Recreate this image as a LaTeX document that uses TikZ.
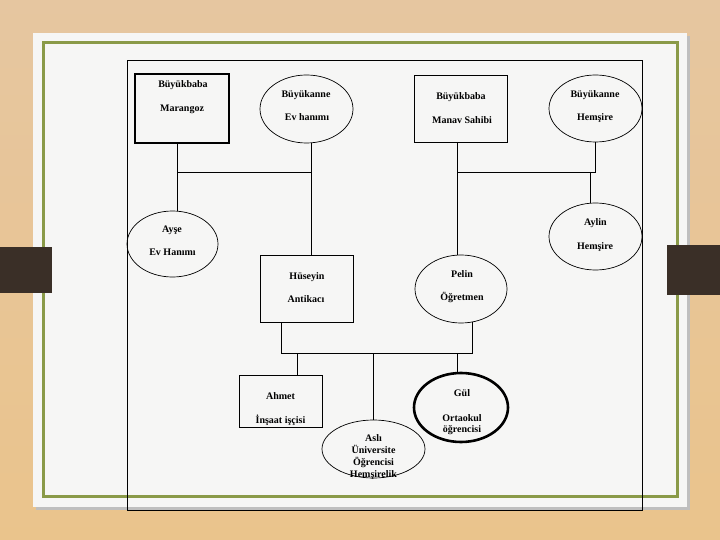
\documentclass[tikz,border=0pt]{standalone}
\usepackage{fontspec}
\setmainfont{Liberation Serif}
\usetikzlibrary{shapes.geometric}
\definecolor{wood}{HTML}{EAC48C}
\definecolor{woodtop}{HTML}{E6C6A0}
\definecolor{olive}{HTML}{8A9A48}
\definecolor{tab}{HTML}{3A2F27}
\definecolor{paper}{HTML}{F6F6F5}
\tikzset{
  rectbox/.style={draw, rectangle, inner sep=0pt, outer sep=0pt, line width=0.9pt},
  ovalbox/.style={draw, ellipse, inner sep=0pt, outer sep=0pt, line width=0.7pt},
  txt/.style={font=\bfseries\fontsize{10}{12}\selectfont, inner sep=0pt, align=center, text height=7pt, text depth=2pt},
  link/.style={line width=0.9pt}
}
\begin{document}
\begin{tikzpicture}[x=1pt,y=-1pt]
\useasboundingbox (0,0) rectangle (720,540);
% background
\shade[top color=woodtop, bottom color=wood] (0,0) rectangle (720,540);
% paper with shadow
\fill[black!25] (36,36) rectangle (690,510);
\fill[paper] (33,33) rectangle (687,507);
% green border
\draw[olive, line width=3pt] (43,43) rectangle (677,496);
% tabs
\fill[tab] (0,247) rectangle (52,293);
\fill[tab] (667,245) rectangle (720,295);
% inner frame
\draw[line width=0.9pt] (127,60) rectangle (642,510);

% generation 1
\node[rectbox, line width=1.9pt, minimum width=94pt, minimum height=69pt] (bb1) at (182,108.5) {};
\node[txt] (t1a) at (183,85) {Büyükbaba};
\node[txt] (t1b) at (182,109) {Marangoz};

\node[ovalbox, minimum width=93pt, minimum height=68pt] (ba1) at (306.5,109) {};
\node[txt] (t2a) at (306,95) {Büyükanne};
\node[txt] (t2b) at (307,118) {Ev hanımı};

\node[rectbox, minimum width=93pt, minimum height=67pt] (bb2) at (460.5,108.5) {};
\node[txt] (t3a) at (461,97) {Büyükbaba};
\node[txt] (t3b) at (462,121) {Manav Sahibi};

\node[ovalbox, minimum width=93pt, minimum height=67pt] (ba2) at (595.5,108.5) {};
\node[txt] (t4a) at (595,95) {Büyükanne};
\node[txt] (t4b) at (595,118) {Hemşire};

% generation 2
\node[ovalbox, minimum width=91pt, minimum height=66pt] (ayse) at (172.5,244) {};
\node[txt] (t5a) at (172,230) {Ayşe};
\node[txt] (t5b) at (172.5,253) {Ev Hanımı};

\node[rectbox, minimum width=93pt, minimum height=67pt] (hus) at (306.5,288.5) {};
\node[txt] (t6a) at (307,277) {Hüseyin};
\node[txt] (t6b) at (306,300) {Antikacı};

\node[ovalbox, minimum width=92pt, minimum height=68pt] (pel) at (461,289) {};
\node[txt] (t7a) at (462,275) {Pelin};
\node[txt] (t7b) at (462,298) {Öğretmen};

\node[ovalbox, minimum width=93pt, minimum height=67pt] (ayl) at (595.5,236.5) {};
\node[txt] (t8a) at (595.5,223) {Aylin};
\node[txt] (t8b) at (595,247) {Hemşire};

% generation 3
\node[rectbox, minimum width=83pt, minimum height=52pt] (ahm) at (280.5,401) {};
\node[txt] (t9a) at (280.5,397) {Ahmet};
\node[txt] (t9b) at (280.5,421) {İnşaat işçisi};

\node[ovalbox, minimum width=103pt, minimum height=58pt] (asli) at (373.5,449) {};
\node[font=\bfseries\fontsize{10}{12}\selectfont, inner sep=0pt, align=center, anchor=north] (t10) at (373.5,434) {Aslı\\Üniversite\\Öğrencisi\\Hemşirelik};

\node[ovalbox, line width=2.6pt, minimum width=94pt, minimum height=69pt] (gul) at (461,407.5) {};
\node[txt] (t11a) at (462,394) {Gül};
\node[font=\bfseries\fontsize{10}{11.5}\selectfont, inner sep=0pt, align=center, anchor=north] (t11b) at (462,414) {Ortaokul\\öğrencisi};

% connectors
\coordinate (c1) at (177,172);
\coordinate (c2) at (311,172);
\coordinate (c3) at (457,172);
\coordinate (c4) at (595,172);
\coordinate (c5) at (590,172);
\coordinate (c6) at (281,353);
\coordinate (c7) at (472,353);
\coordinate (k1) at (297,353);
\coordinate (k2) at (373,353);
\coordinate (k3) at (457,353);

\draw[link] (bb1.south -| c1) -- (c1) -- (c2) -- (ba1.south -| c2);
\draw[link] (c1) -- (ayse.north -| c1);
\draw[link] (c2) -- (hus.north -| c2);
\draw[link] (bb2.south -| c3) -- (c3) -- (c4) -- (ba2.south -| c4);
\draw[link] (c3) -- (pel.north -| c3);
\draw[link] (c5) -- (ayl.north -| c5);
\draw[link] (hus.south -| c6) -- (c6) -- (c7) -- ([yshift=1pt]pel.south -| c7);
\draw[link] (k1) -- (ahm.north -| k1);
\draw[link] (k2) -- (asli.north -| k2);
\draw[link] (k3) -- (gul.north -| k3);
\end{tikzpicture}
\end{document}
